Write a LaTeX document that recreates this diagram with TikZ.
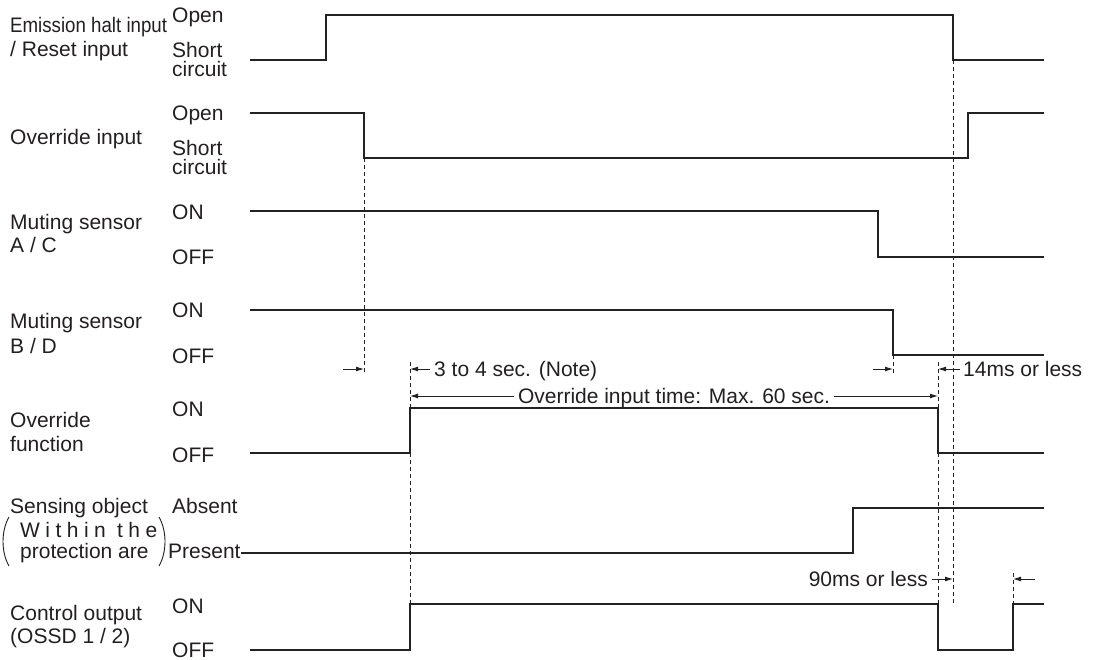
\documentclass[tikz,border=0pt]{standalone}
\usepackage{fontspec}
\setmainfont{Liberation Sans}
\usetikzlibrary{arrows.meta}
\definecolor{linec}{HTML}{222222}
\definecolor{textc}{HTML}{231F20}
\newcommand{\lbfont}{\fontsize{21}{25}\selectfont}
\begin{document}
\begin{tikzpicture}[x=1pt,y=-1pt,
  sig/.style={line width=1.3pt, draw=linec, line join=miter},
  guide/.style={line width=0.9pt, draw=linec, dash pattern=on 4pt off 3pt},
  dimarrow/.style={line width=0.9pt, draw=linec, -{Latex[length=8pt,width=5pt]}},
  lbl/.style={anchor=base west, inner sep=0pt, font=\lbfont, text=textc},
  paren/.style={line width=0.9pt, draw=textc},
]
\useasboundingbox (0,0) rectangle (1098,660);

% ---- left labels
\node[lbl] (l1a) at (10,33) {\scalebox{0.89}[1]{Emission halt input}};
\node[lbl] (l1b) at (10,57) {/ Reset input};
\node[lbl] (s1a) at (172,23) {Open};
\node[lbl] (s1b) at (172,58) {Short};
\node[lbl] (s1c) at (172,77) {circuit};

\node[lbl] (l2) at (10,145) {Override input};
\node[lbl] (s2a) at (172,121) {Open};
\node[lbl] (s2b) at (172,156) {Short};
\node[lbl] (s2c) at (172,175) {circuit};

\node[lbl] (l3a) at (10,230) {Muting sensor};
\node[lbl] (l3b) at (10,253) {A / C};
\node[lbl] (s3a) at (172,220) {ON};
\node[lbl] (s3b) at (172,265) {OFF};

\node[lbl] (l4a) at (10,329) {Muting sensor};
\node[lbl] (l4b) at (10,353) {B / D};
\node[lbl] (s4a) at (172,318) {ON};
\node[lbl] (s4b) at (172,363) {OFF};

\node[lbl] (l5a) at (10,427) {Override};
\node[lbl] (l5b) at (10,451) {function};
\node[lbl] (s5a) at (172,416) {ON};
\node[lbl] (s5b) at (172,462) {OFF};

\node[lbl] (l6a) at (10,513) {Sensing object};
\node[lbl] (l6b) at (20,537) {\addfontfeature{LetterSpace=26}Within the};
\node[lbl] (l6c) at (20,558) {protection are};
\node[lbl] (s6a) at (172,513) {Absent};
\node[lbl] (s6b) at (168,558) {Present};
\draw[paren] (9,517) .. controls (1,531) and (1,552) .. (9,566);
\draw[paren] (159,517) .. controls (167,531) and (167,552) .. (159,566);

\node[lbl] (l7a) at (10,620) {Control output};
\node[lbl] (l7b) at (10,643) {(OSSD 1 / 2)};
\node[lbl] (s7a) at (172,613) {ON};
\node[lbl] (s7b) at (172,657) {OFF};

% ---- guide lines (dashed)
\draw[guide] (364,158) -- (364,372);
\draw[guide] (410,362) -- (410,604);
\draw[guide] (893,355) -- (893,373);
\draw[guide] (938,362) -- (938,604);
\draw[guide] (953,60) -- (953,604);
\draw[guide] (1013,573) -- (1013,604);

% ---- waveforms
\draw[sig] (250,60) -- (326,60) -- (326,15) -- (953,15) -- (953,60) -- (1044,60);
\draw[sig] (250,113) -- (364,113) -- (364,158) -- (968,158) -- (968,113) -- (1044,113);
\draw[sig] (250,211) -- (878,211) -- (878,257) -- (1044,257);
\draw[sig] (250,310) -- (893,310) -- (893,355) -- (1044,355);
\draw[sig] (250,453) -- (410,453) -- (410,408) -- (938,408) -- (938,453) -- (1044,453);
\draw[sig] (s6b.east |- 0,553) -- (853,553) -- (853,508) -- (1044,508);
\draw[sig] (250,650) -- (410,650) -- (410,604) -- (938,604) -- (938,650) -- (1013,650) -- (1013,604) -- (1044,604);

% ---- dimension arrows
\draw[dimarrow] (343,369) -- (364,369);
\draw[dimarrow] (430,369) -- (410,369);
\node[lbl] (t1) at (434,376.5) {3 to 4 sec. (Note)};
\draw[dimarrow] (873,369) -- (893,369);
\draw[dimarrow] (960,369) -- (938,369);
\node[lbl] (t2) at (963,376.5) {14ms or less};

\node[lbl, anchor=base] (t3) at (674,403.5) {Override input time: Max. 60 sec.};
\draw[dimarrow] (t3.west |- 0,396) ++(-4,0) -- (410,396);
\draw[dimarrow] (t3.east |- 0,396) ++(4,0) -- (938,396);

\node[lbl, anchor=base east] (t4) at (928,586.5) {90ms or less};
\draw[dimarrow] (932,579) -- (953,579);
\draw[dimarrow] (1035,579) -- (1013,579);
\end{tikzpicture}
\end{document}
